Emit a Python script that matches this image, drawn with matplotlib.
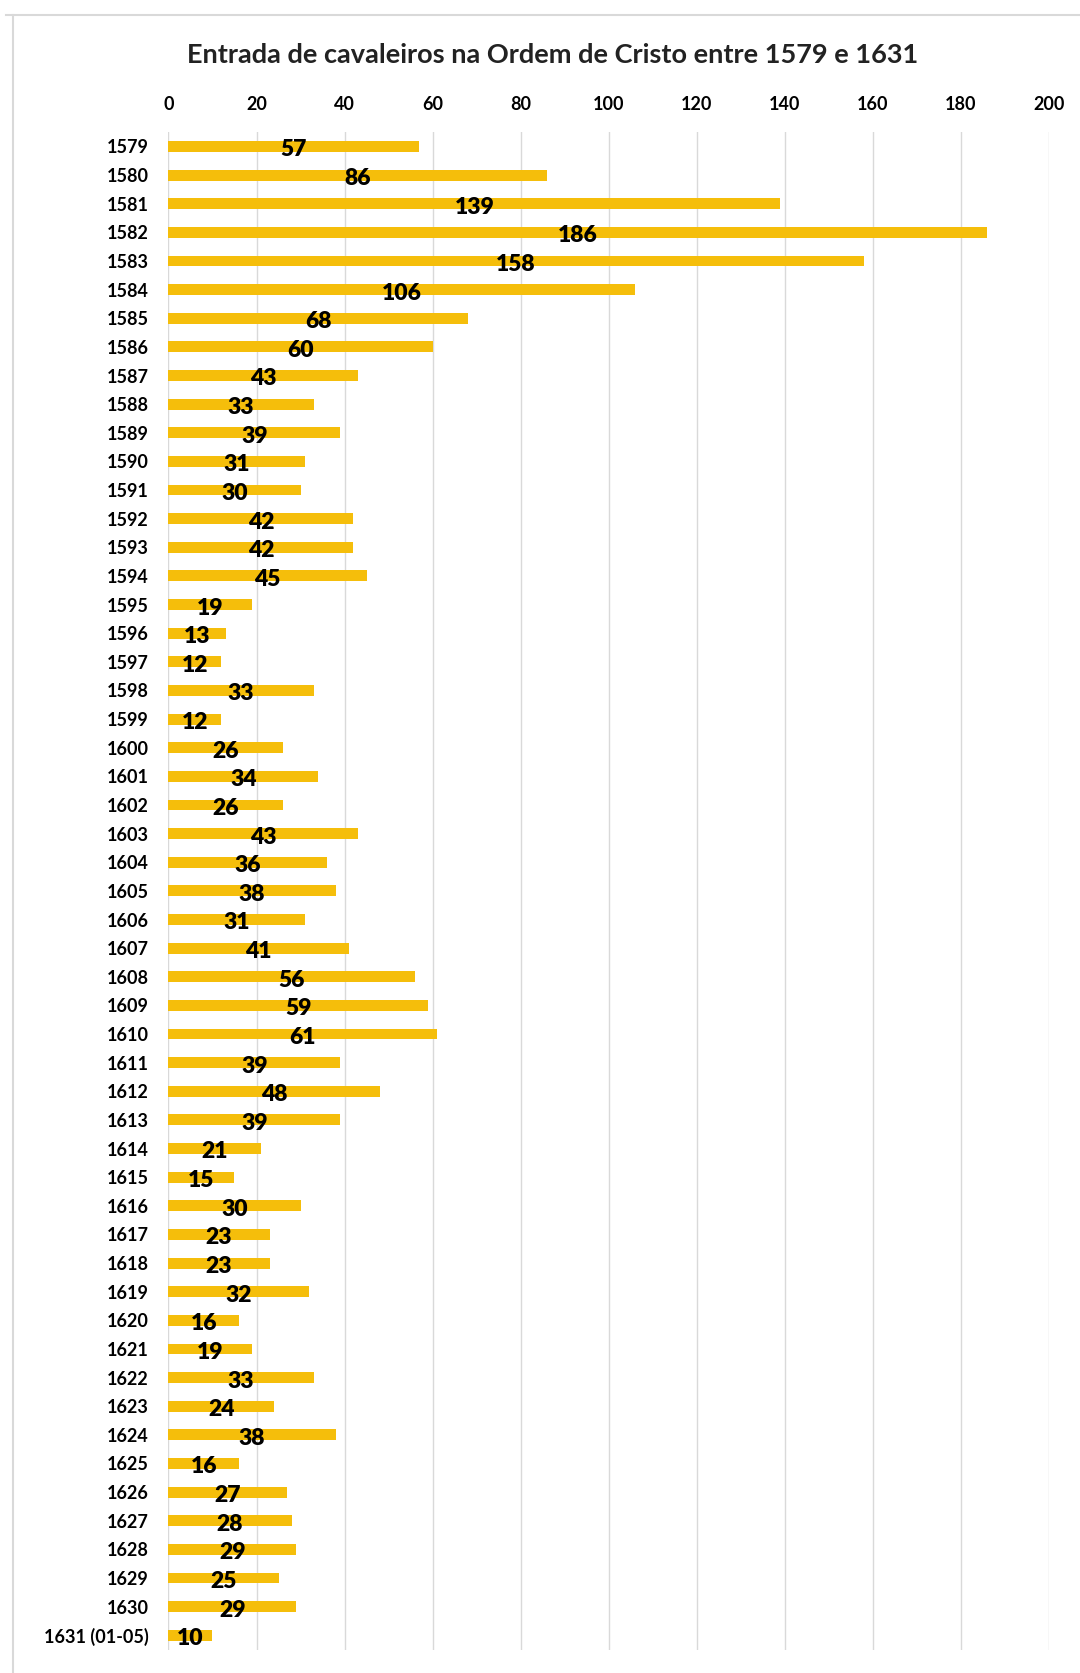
import matplotlib.pyplot as plt
from matplotlib.lines import Line2D

years = ["1579", "1580", "1581", "1582", "1583", "1584", "1585", "1586", "1587", "1588",
         "1589", "1590", "1591", "1592", "1593", "1594", "1595", "1596", "1597", "1598",
         "1599", "1600", "1601", "1602", "1603", "1604", "1605", "1606", "1607", "1608",
         "1609", "1610", "1611", "1612", "1613", "1614", "1615", "1616", "1617", "1618",
         "1619", "1620", "1621", "1622", "1623", "1624", "1625", "1626", "1627", "1628",
         "1629", "1630", "1631 (01-05)"]
counts = [57, 86, 139, 186, 158, 106, 68, 60, 43, 33,
          39, 31, 30, 42, 42, 45, 19, 13, 12, 33,
          12, 26, 34, 26, 43, 36, 38, 31, 41, 56,
          59, 61, 39, 48, 39, 21, 15, 30, 23, 23,
          32, 16, 19, 33, 24, 38, 16, 27, 28, 29,
          25, 29, 10]
ticks = [0, 20, 40, 60, 80, 100, 120, 140, 160, 180, 200]

plt.rcParams['font.family'] = ['Lato', 'DejaVu Sans']

fig = plt.figure(figsize=(10.8, 16.73), dpi=100)
ax = fig.add_axes([0.156, 0.014, 0.815, 0.907])

ypos = list(range(len(years)))
ax.barh(ypos, counts, height=0.38, color='#F5BE0B', zorder=3)
for y, v in zip(ypos, counts):
    ax.text(v / 2, y + 0.12, str(v), ha='center', va='center',
            fontsize=16.5, fontweight='heavy', color='black', zorder=4)

ax.set_ylim(len(years) - 0.5, -0.5)
ax.set_xlim(0, 200)
ax.set_yticks(ypos)
ax.set_yticklabels(years, fontsize=13, fontweight='bold')
ax.set_xticks(ticks)
ax.set_xticklabels([str(t) for t in ticks], fontsize=13, fontweight='bold')
ax.xaxis.tick_top()
ax.tick_params(axis='both', length=0)
ax.tick_params(axis='x', pad=14)
ax.tick_params(axis='y', pad=14)
ax.grid(axis='x', color='#d9d9d9', linewidth=1, zorder=0)
for s in ax.spines.values():
    s.set_visible(False)

fig.text(0.512, 0.967, "Entrada de cavaleiros na Ordem de Cristo entre 1579 e 1631",
         ha='center', va='center', fontsize=19.5, fontweight='bold', color='#222222')

# light frame around the chart
fig.add_artist(Line2D([0.006, 1.0], [0.991, 0.991], color='#d9d9d9', lw=1.5))
fig.add_artist(Line2D([0.012, 0.012], [0.0, 0.991], color='#d9d9d9', lw=1.5))

fig.savefig("out.png", dpi=100)
